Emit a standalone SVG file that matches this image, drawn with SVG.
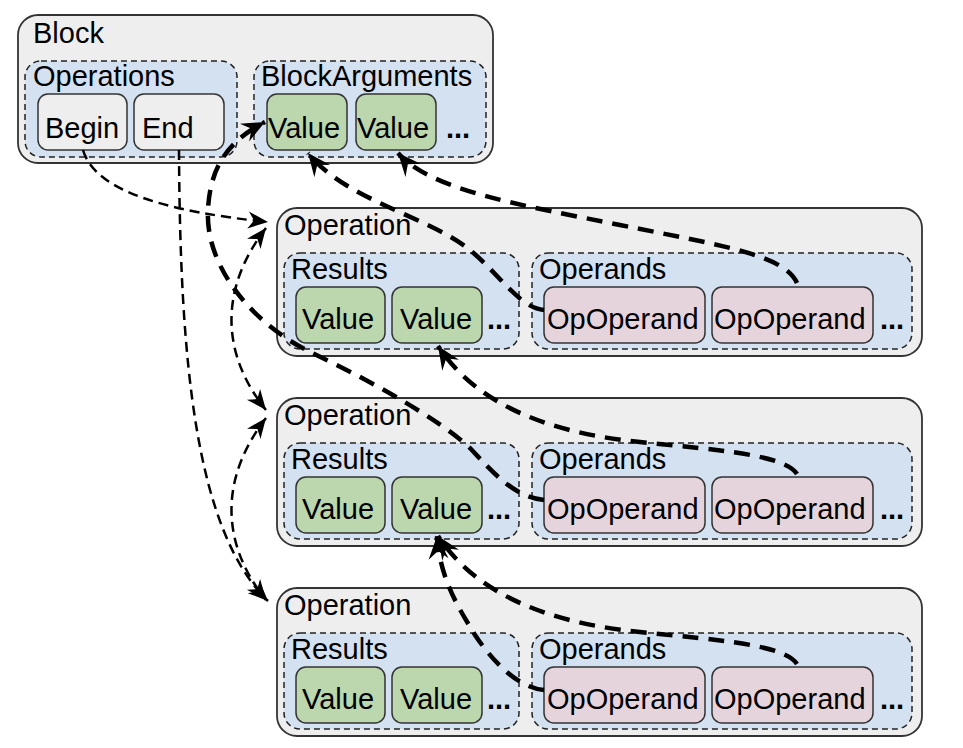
<svg xmlns="http://www.w3.org/2000/svg" width="963" height="748" viewBox="0 0 963 748">
<style>
text{font-family:"Liberation Sans",Arial,sans-serif;font-size:29px;fill:#000}
.dots{font-weight:bold}
.outer{fill:#eeeeee;stroke:#333;stroke-width:1.8}
.cont{fill:#d4e1f1;stroke:#222;stroke-width:1.5;stroke-dasharray:6 4}
.val{fill:#bcd6ad;stroke:#333;stroke-width:1.5}
.opd{fill:#e5d4dc;stroke:#333;stroke-width:1.5}
.lnk{fill:#eeeeee;stroke:#333;stroke-width:1.5}
.thin{fill:none;stroke:#000;stroke-width:2.5;stroke-dasharray:10 6}
.thick{fill:none;stroke:#000;stroke-width:4.5;stroke-dasharray:16 10}
</style>
<defs>
<marker id="ah" viewBox="-22 -11 24 22" refX="0" refY="0" markerWidth="24" markerHeight="22" markerUnits="userSpaceOnUse" orient="auto-start-reverse">
<path d="M0,0 L-20,-8.5 L-14,0 L-20,8.5 Z" fill="#000"/>
</marker>
<marker id="ahT" viewBox="-26 -13 28 26" refX="0" refY="0" markerWidth="28" markerHeight="26" markerUnits="userSpaceOnUse" orient="auto-start-reverse">
<path d="M0,0 L-23,-10 L-15,0 L-23,10 Z" fill="#000"/>
</marker>
</defs>

<g id="block">
<rect class="outer" x="18" y="15" width="475" height="148" rx="20"/>
<text x="33" y="43">Block</text>
<g id="operations">
<rect class="cont" x="25" y="61" width="212" height="96" rx="16"/>
<text x="33" y="86">Operations</text>
<g id="begin"><rect class="lnk" x="38" y="94" width="89" height="56" rx="10"/><text x="45" y="138">Begin</text></g>
<g id="end"><rect class="lnk" x="134" y="94" width="90" height="56" rx="10"/><text x="142" y="138">End</text></g>
</g>
<g id="blockargs">
<rect class="cont" x="254" y="61" width="232" height="96" rx="16"/>
<text x="261" y="86">BlockArguments</text>
<g id="barg1"><rect class="val" x="267" y="94" width="80" height="56" rx="10"/><text x="268" y="138">Value</text></g>
<g id="barg2"><rect class="val" x="356" y="94" width="80" height="56" rx="10"/><text x="357" y="138">Value</text></g>
<text class="dots" x="446" y="138">...</text>
</g>
</g>

<g id="op1" transform="translate(0,208)">
<rect class="outer" x="277" y="0" width="645" height="148" rx="20"/>
<text x="284" y="27">Operation</text>
<g id="op1-results">
<rect class="cont" x="284" y="45" width="235" height="96" rx="16"/>
<text x="291" y="71">Results</text>
<g id="op1-res1"><rect class="val" x="296" y="79" width="89" height="56" rx="10"/><text x="302" y="121">Value</text></g>
<g id="op1-res2"><rect class="val" x="392" y="79" width="90" height="56" rx="10"/><text x="400" y="121">Value</text></g>
<text class="dots" x="487" y="121">...</text>
</g>
<g id="op1-operands">
<rect class="cont" x="532" y="45" width="380" height="96" rx="16"/>
<text x="539" y="71">Operands</text>
<g id="op1-opd1"><rect class="opd" x="544" y="79" width="161" height="56" rx="10"/><text x="547" y="121">OpOperand</text></g>
<g id="op1-opd2"><rect class="opd" x="712" y="79" width="161" height="56" rx="10"/><text x="714" y="121">OpOperand</text></g>
<text class="dots" x="880" y="121">...</text>
</g>
</g>

<g id="op2" transform="translate(0,398)">
<rect class="outer" x="277" y="0" width="645" height="148" rx="20"/>
<text x="284" y="27">Operation</text>
<g id="op2-results">
<rect class="cont" x="284" y="45" width="235" height="96" rx="16"/>
<text x="291" y="71">Results</text>
<g id="op2-res1"><rect class="val" x="296" y="79" width="89" height="56" rx="10"/><text x="302" y="121">Value</text></g>
<g id="op2-res2"><rect class="val" x="392" y="79" width="90" height="56" rx="10"/><text x="400" y="121">Value</text></g>
<text class="dots" x="487" y="121">...</text>
</g>
<g id="op2-operands">
<rect class="cont" x="532" y="45" width="380" height="96" rx="16"/>
<text x="539" y="71">Operands</text>
<g id="op2-opd1"><rect class="opd" x="544" y="79" width="161" height="56" rx="10"/><text x="547" y="121">OpOperand</text></g>
<g id="op2-opd2"><rect class="opd" x="712" y="79" width="161" height="56" rx="10"/><text x="714" y="121">OpOperand</text></g>
<text class="dots" x="880" y="121">...</text>
</g>
</g>

<g id="op3" transform="translate(0,588)">
<rect class="outer" x="277" y="0" width="645" height="148" rx="20"/>
<text x="284" y="27">Operation</text>
<g id="op3-results">
<rect class="cont" x="284" y="45" width="235" height="96" rx="16"/>
<text x="291" y="71">Results</text>
<g id="op3-res1"><rect class="val" x="296" y="79" width="89" height="56" rx="10"/><text x="302" y="121">Value</text></g>
<g id="op3-res2"><rect class="val" x="392" y="79" width="90" height="56" rx="10"/><text x="400" y="121">Value</text></g>
<text class="dots" x="487" y="121">...</text>
</g>
<g id="op3-operands">
<rect class="cont" x="532" y="45" width="380" height="96" rx="16"/>
<text x="539" y="71">Operands</text>
<g id="op3-opd1"><rect class="opd" x="544" y="79" width="161" height="56" rx="10"/><text x="547" y="121">OpOperand</text></g>
<g id="op3-opd2"><rect class="opd" x="712" y="79" width="161" height="56" rx="10"/><text x="714" y="121">OpOperand</text></g>
<text class="dots" x="880" y="121">...</text>
</g>
</g>

<g id="connectors">
<path class="thin" d="M83,150 C95,192 170,212 268,222" marker-end="url(#ah)"/>
<path class="thin" d="M179,150 C180,360 195,530 268,601" marker-end="url(#ah)"/>
<path class="thin" d="M266,228 C222,285 218,350 266,410" marker-start="url(#ah)" marker-end="url(#ah)"/>
<path class="thin" d="M266,418 C222,475 218,540 266,600" marker-start="url(#ah)" marker-end="url(#ah)"/>
<path class="thick" d="M544,310 C520,308 500,275 470,250 C430,217 345,200 308,153" marker-end="url(#ahT)"/>
<path class="thick" d="M797,283 C785,255 720,245 620,225 C520,205 430,190 398,153" marker-end="url(#ahT)"/>
<path class="thick" d="M544,500 C515,497 495,475 470,448 C440,420 370,380 310,352 C250,322 205,265 208,210 C210,165 230,140 265,122" marker-end="url(#ahT)"/>
<path class="thick" d="M797,474 C785,455 720,450 640,442 C560,434 480,410 438,346" marker-end="url(#ahT)"/>
<path class="thick" d="M544,690 C520,688 495,665 475,635 C460,610 440,580 437,536" marker-end="url(#ahT)"/>
<path class="thick" d="M797,664 C785,645 720,640 640,632 C560,624 480,600 438,536" marker-end="url(#ahT)"/>
</g>
</svg>
